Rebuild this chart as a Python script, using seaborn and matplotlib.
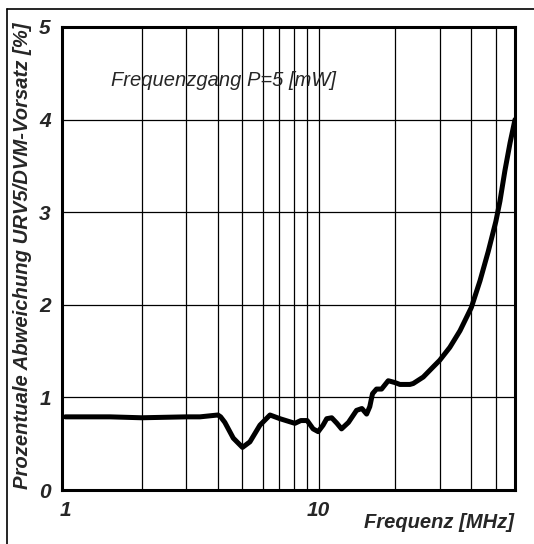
import numpy as np
import pandas as pd
import matplotlib
matplotlib.use("Agg")
import matplotlib.pyplot as plt
import seaborn as sns
from matplotlib.lines import Line2D

freq = [1.0, 1.5, 2.0, 3.0, 3.4, 4.0, 4.1, 4.26, 4.6, 5.0, 5.35, 5.86, 6.42, 7.03, 8.05,
        8.5, 9.0, 9.5, 9.95, 10.4, 10.75, 11.25, 11.8, 12.3, 13.1, 14.1, 14.8, 15.45, 15.9,
        16.3, 16.9, 17.7, 18.8, 20.0, 20.9, 22.9, 23.6, 25.85, 28.3, 30, 32.9, 36.1, 40,
        43.3, 46.7, 50, 51.9, 54.3, 56.9, 59.5]
dev = [0.79, 0.79, 0.78, 0.79, 0.79, 0.81, 0.79, 0.73, 0.56, 0.46, 0.52, 0.70, 0.81, 0.77,
       0.72, 0.75, 0.75, 0.66, 0.63, 0.70, 0.77, 0.78, 0.72, 0.66, 0.73, 0.86, 0.88, 0.82,
       0.90, 1.04, 1.09, 1.09, 1.18, 1.16, 1.14, 1.14, 1.15, 1.22, 1.33, 1.40, 1.54, 1.72,
       1.97, 2.26, 2.58, 2.90, 3.12, 3.45, 3.75, 4.00]
x_grid = [2, 3, 4, 5, 6, 7, 8, 9, 10, 20, 30, 40, 50]
y_ticks = [0, 1, 2, 3, 4, 5]
x_ticks = [1, 10]
x_ticklabels = ["1", "10"]
title_text = "Frequenzgang P=5 [mW]"
xlabel = "Frequenz [MHz]"
ylabel = "Prozentuale Abweichung URV5/DVM-Vorsatz [%]"

sns.set_theme(style="white")
plt.rcParams['font.family'] = ['Liberation Sans', 'DejaVu Sans']

fig = plt.figure(figsize=(5.34, 5.44), dpi=100)
ax = fig.add_axes([62/534, 1-490/544, (515-62)/534, (490-27)/544])

df = pd.DataFrame({"freq": freq, "dev": dev})
sns.lineplot(data=df, x="freq", y="dev", ax=ax, color="black", linewidth=3.6,
             estimator=None, sort=True, zorder=3)
ax.set_xscale("log")
ax.set_xlim(0.97, 59.5)
ax.set_ylim(0, 5)

for xv in x_grid:
    ax.axvline(xv, color="black", linewidth=0.9, zorder=1)
for yv in y_ticks[1:-1]:
    ax.axhline(yv, color="black", linewidth=0.9, zorder=1)

ax.set_xticks(x_ticks)
ax.set_xticklabels(x_ticklabels)
ax.xaxis.set_minor_locator(matplotlib.ticker.NullLocator())
ax.set_yticks(y_ticks)
ax.tick_params(axis="x", length=0, pad=8)
ax.tick_params(axis="y", length=0, pad=8)
for lab in ax.get_xticklabels() + ax.get_yticklabels():
    lab.set_fontstyle("italic")
    lab.set_fontweight("bold")
    lab.set_fontsize(15)
ax.set_xlabel("")
ax.set_ylabel("")
for s in ax.spines.values():
    s.set_color("black")
    s.set_linewidth(2.2)

ax.text(1.52, 4.36, title_text, fontsize=14.5, fontstyle="italic", va="baseline", ha="left")

fig.text(514/534, 1-522/544, xlabel, fontsize=14.5, fontstyle="italic", fontweight="bold",
         ha="right", va="center")
fig.text(23/534, 1-256/544, ylabel, fontsize=14.6, fontstyle="italic", fontweight="bold",
         rotation=90, ha="center", va="center")

fig.add_artist(Line2D([7/534, 7/534], [0, 1-9/544], color="black", linewidth=1.2,
                      transform=fig.transFigure))
fig.add_artist(Line2D([7/534, 1], [1-9/544, 1-9/544], color="black", linewidth=1.2,
                      transform=fig.transFigure))

fig.savefig("out.png", dpi=100, facecolor="white")
